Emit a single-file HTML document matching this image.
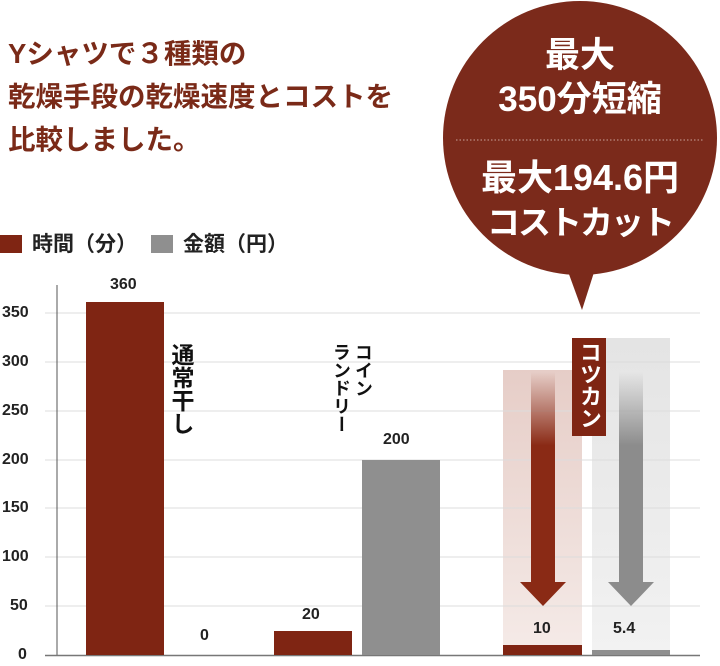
<!DOCTYPE html>
<html><head><meta charset="utf-8"><style>
html,body{margin:0;padding:0;background:#fff;}
body{width:720px;height:666px;position:relative;overflow:hidden;font-family:"Liberation Sans","Noto Sans CJK JP",sans-serif;}
.t{position:absolute;font-weight:bold;}
</style></head><body>
<svg width="720" height="666" style="position:absolute;left:0;top:0">
<defs>
<linearGradient id="rg" x1="0" y1="0" x2="0" y2="1"><stop offset="0" stop-color="#8a2a15" stop-opacity="0"/><stop offset="0.35" stop-color="#8a2a15" stop-opacity="1"/><stop offset="1" stop-color="#8a2a15"/></linearGradient>
<linearGradient id="gg" x1="0" y1="0" x2="0" y2="1"><stop offset="0" stop-color="#8c8c8c" stop-opacity="0"/><stop offset="0.35" stop-color="#8c8c8c" stop-opacity="1"/><stop offset="1" stop-color="#8c8c8c"/></linearGradient>
<linearGradient id="lr" x1="0" y1="0" x2="0" y2="1"><stop offset="0" stop-color="#e6cdc7"/><stop offset="1" stop-color="#f5ebe8"/></linearGradient>
<linearGradient id="lg" x1="0" y1="0" x2="0" y2="1"><stop offset="0" stop-color="#e4e4e4"/><stop offset="1" stop-color="#f2f2f2"/></linearGradient>
</defs>
<rect x="503" y="370" width="79" height="285" fill="url(#lr)"/>
<rect x="592" y="338" width="78" height="317" fill="url(#lg)"/>
<g stroke="#dcdcdc" stroke-width="1">
<line x1="45" x2="700" y1="313" y2="313"/><line x1="45" x2="700" y1="362" y2="362"/>
<line x1="45" x2="700" y1="411" y2="411"/><line x1="45" x2="700" y1="460" y2="460"/>
<line x1="45" x2="700" y1="508" y2="508"/><line x1="45" x2="700" y1="557" y2="557"/>
<line x1="45" x2="700" y1="606" y2="606"/>
</g>
<line x1="57" x2="57" y1="285" y2="655" stroke="#555" stroke-width="1"/>
<line x1="45" x2="700" y1="655.5" y2="655.5" stroke="#777" stroke-width="1.5"/>
<rect x="86" y="302" width="78" height="353" fill="#7f2513"/>
<rect x="274" y="631" width="78" height="24" fill="#7f2513"/>
<rect x="362" y="460" width="78" height="195" fill="#8f8f8f"/>
<rect x="503" y="645" width="79" height="10" fill="#7f2513"/>
<rect x="592" y="650" width="78" height="5" fill="#8f8f8f"/>
<rect x="531" y="372" width="24" height="210" fill="url(#rg)"/>
<polygon points="520,582 566,582 543,606" fill="#8a2a15"/>
<rect x="619" y="372" width="24" height="210" fill="url(#gg)"/>
<polygon points="608,582 654,582 631,606" fill="#8c8c8c"/>
<circle cx="580" cy="138" r="137" fill="#7b2a1b"/>
<polygon points="566,266 596,266 582,310" fill="#7b2a1b"/>
<line x1="456" x2="704" y1="140" y2="140" stroke="#c9a39a" stroke-width="1" stroke-dasharray="1.5,2"/>
<rect x="572" y="338" width="34" height="98" fill="#7f2513"/>
</svg>
<div class="t" style="left:8px;top:32px;font-size:27.5px;line-height:43px;color:#7a2a18;">Yシャツで３種類の<br>乾燥手段の乾燥速度とコストを<br>比較しました。</div>
<div class="t" style="left:0;top:228px;font-size:21px;color:#222;"><span style="display:inline-block;width:22px;height:18px;background:#7f2513;vertical-align:-2px;margin-right:10px"></span>時間（分）<span style="display:inline-block;width:22px;height:18px;background:#8f8f8f;vertical-align:-2px;margin:0 10px 0 14px"></span>金額（円）</div>
<div class="t" style="left:0;top:0;width:720px;height:666px;font-size:16px;color:#222;">
<div style="position:absolute;left:2px;top:304px">350</div><div style="position:absolute;left:2px;top:353px">300</div>
<div style="position:absolute;left:2px;top:402px">250</div><div style="position:absolute;left:2px;top:451px">200</div>
<div style="position:absolute;left:2px;top:499px">150</div><div style="position:absolute;left:2px;top:548px">100</div>
<div style="position:absolute;left:10px;top:597px">50</div><div style="position:absolute;left:18px;top:646px">0</div>
<div style="position:absolute;left:110px;top:276px">360</div>
<div style="position:absolute;left:200px;top:627px">0</div>
<div style="position:absolute;left:302px;top:606px">20</div>
<div style="position:absolute;left:383px;top:431px">200</div>
<div style="position:absolute;left:533px;top:620px">10</div>
<div style="position:absolute;left:613px;top:620px">5.4</div>
</div>
<div class="t" style="left:169px;top:343px;font-size:23px;writing-mode:vertical-rl;color:#111;line-height:24px;">通常干し</div>
<div class="t" style="left:330px;top:343px;font-size:18px;writing-mode:vertical-rl;color:#111;line-height:22px;">コイン<br>ランドリー</div>
<div class="t" style="left:574px;top:341px;font-size:22px;writing-mode:vertical-rl;color:#fff;line-height:30px;">コツカン</div>
<div class="t" style="left:443px;top:34px;width:274px;text-align:center;color:#fff;font-size:35px;line-height:44px;">最大<br>350分短縮</div>
<div class="t" style="left:443px;top:156px;width:274px;text-align:center;color:#fff;font-size:36px;line-height:44px;">最大194.6円<br><span style="font-size:33px;letter-spacing:-2px">コストカット</span></div>
</body></html>
